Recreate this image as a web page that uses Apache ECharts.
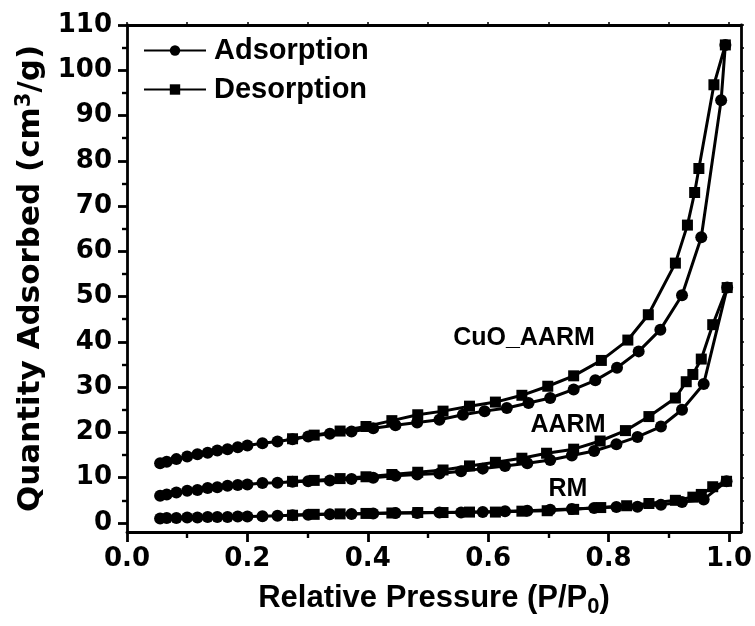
<!DOCTYPE html>
<html>
<head>
<meta charset="utf-8">
<script src="https://cdn.jsdelivr.net/npm/echarts@6/dist/echarts.min.js"></script>
<style>html,body{margin:0;padding:0;background:#fff}#c{width:755px;height:626px}</style>
</head>
<body>
<div id="c"></div>
<script>
// ---- data ----
const xTicks = [0, 0.2, 0.4, 0.6, 0.8, 1.0];
const xMinorTicks = [0.1, 0.3, 0.5, 0.7, 0.9];
const yTicks = [0, 10, 20, 30, 40, 50, 60, 70, 80, 90, 100, 110];
const yMinorTicks = [5, 15, 25, 35, 45, 55, 65, 75, 85, 95, 105];

const cuoAdsP = [0.055,0.066,0.082,0.100,0.117,0.134,0.150,0.167,0.184,0.200,0.225,0.250,0.275,0.301,0.337,0.373,0.409,0.446,0.482,0.519,0.558,0.594,0.631,0.667,0.703,0.742,0.778,0.814,0.850,0.886,0.922,0.954,0.987,0.994];
const cuoAdsV = [13.2,13.5,14.1,14.7,15.2,15.5,16.0,16.3,16.7,17.1,17.6,18.0,18.5,19.1,19.7,20.2,20.9,21.6,22.2,22.8,23.9,24.7,25.4,26.5,27.6,29.5,31.5,34.3,37.9,42.7,50.3,63.1,93.4,105.6];
const cuoDesP = [0.994,0.975,0.950,0.943,0.931,0.911,0.866,0.832,0.788,0.742,0.699,0.656,0.612,0.569,0.525,0.483,0.440,0.397,0.354,0.311,0.275];
const cuoDesV = [105.6,96.8,78.3,73.0,65.8,57.4,46.0,40.4,35.9,32.5,30.2,28.2,26.7,25.8,24.7,23.9,22.6,21.3,20.3,19.4,18.6];

const aarmAdsP = [0.055,0.066,0.082,0.100,0.117,0.134,0.150,0.167,0.184,0.200,0.225,0.250,0.275,0.301,0.337,0.373,0.409,0.446,0.482,0.519,0.555,0.591,0.628,0.665,0.703,0.739,0.776,0.813,0.848,0.887,0.922,0.958,0.997];
const aarmAdsV = [6.0,6.3,6.7,7.1,7.3,7.7,7.9,8.2,8.4,8.5,8.8,8.9,9.1,9.2,9.4,9.7,10.0,10.4,10.7,10.9,11.4,12.0,12.6,13.2,13.9,14.9,15.9,17.4,19.0,21.3,25.0,30.7,52.0];
const aarmDesP = [0.997,0.973,0.954,0.940,0.929,0.911,0.867,0.828,0.786,0.742,0.697,0.656,0.612,0.569,0.525,0.483,0.440,0.397,0.354,0.311,0.275];
const aarmDesV = [52.0,43.8,36.2,32.8,31.2,27.6,23.5,20.4,18.1,16.3,15.4,14.3,13.4,12.6,11.7,11.2,10.7,10.2,9.8,9.4,9.2];

const rmAdsP = [0.055,0.066,0.082,0.100,0.117,0.134,0.150,0.167,0.184,0.200,0.225,0.250,0.275,0.301,0.337,0.373,0.409,0.446,0.482,0.519,0.555,0.591,0.628,0.665,0.703,0.739,0.776,0.813,0.848,0.887,0.922,0.958,0.996];
const rmAdsV = [1.0,1.1,1.1,1.2,1.2,1.3,1.3,1.3,1.4,1.4,1.5,1.6,1.7,1.8,1.9,2.0,2.1,2.2,2.2,2.3,2.3,2.4,2.6,2.7,2.9,3.1,3.3,3.5,3.6,4.0,4.6,5.2,9.2];
const rmDesP = [0.996,0.973,0.954,0.940,0.911,0.867,0.830,0.787,0.742,0.698,0.656,0.612,0.569,0.525,0.483,0.440,0.397,0.354,0.311,0.275];
const rmDesV = [9.2,8.0,6.3,5.7,5.0,4.3,3.8,3.4,3.0,2.7,2.6,2.4,2.4,2.3,2.3,2.2,2.1,2.0,1.9,1.7];

const sampleLabels = ['CuO_AARM', 'AARM', 'RM'];
// -------------------------------------

const FONT = '"Liberation Sans", Arial, sans-serif';
const WFONT = '"DejaVu Sans", "Liberation Sans", sans-serif';
const zip = (xs, ys) => xs.map((x, i) => [x, ys[i]]);

function mkSeries(name, xs, ys, sym) {
  return {
    type: 'line', name: name, data: zip(xs, ys),
    xAxisIndex: 0, yAxisIndex: 0,
    symbol: sym, symbolSize: sym === 'circle' ? 12 : 11,
    color: '#000',
    lineStyle: { color: '#000', width: 3 },
    itemStyle: { color: '#000' },
    animation: false, silent: true
  };
}

const axisLineStyle = { show: true, onZero: false, lineStyle: { color: '#000', width: 2.8 } };

const chart = echarts.init(document.getElementById('c'), null, { renderer: 'canvas' });
chart.setOption({
  backgroundColor: '#fff',
  animation: false,
  grid: { left: 127, right: 12, top: 25, bottom: 94, containLabel: false },
  legend: {
    data: ['Adsorption', 'Desorption'],
    orient: 'vertical', left: 143, top: 36, padding: 0,
    itemWidth: 62, itemHeight: 13, itemGap: 10,
    textStyle: { fontFamily: FONT, fontWeight: 'bold', fontSize: 29, color: '#000', padding: [0, 0, 0, 3] },
    selectedMode: false
  },
  xAxis: [
    {
      type: 'value', min: 0, max: 1.02, position: 'bottom',
      axisLine: axisLineStyle,
      axisTick: { show: true, customValues: xTicks, length: 10, lineStyle: { color: '#000', width: 2.8 } },
      axisLabel: { customValues: xTicks, formatter: v => v.toFixed(1), margin: 14,
        fontFamily: WFONT, fontWeight: 'bold', fontSize: 26, color: '#000' },
      splitLine: { show: false },
      name: 'Relative Pressure (P/P{sub|0})', nameLocation: 'middle', nameGap: 47,
      nameTextStyle: { fontFamily: FONT, fontWeight: 'bold', fontSize: 31, color: '#000',
        rich: { sub: { fontFamily: FONT, fontWeight: 'bold', fontSize: 22, color: '#000', padding: [17, 0, 0, 0] } } }
    },
    {
      type: 'value', min: 0, max: 1.02, position: 'bottom',
      axisLine: { show: false, onZero: false },
      axisTick: { show: true, customValues: xMinorTicks, length: 6, lineStyle: { color: '#000', width: 2.4 } },
      axisLabel: { show: false }, splitLine: { show: false }
    },
    {
      type: 'value', min: 0, max: 1.02, position: 'top',
      axisLine: axisLineStyle,
      axisTick: { show: true, customValues: [0,0.1,0.2,0.3,0.4,0.5,0.6,0.7,0.8,0.9,1.0], length: 3, lineStyle: { color: '#000', width: 1.5 } },
      axisLabel: { show: false }, splitLine: { show: false }
    }
  ],
  yAxis: [
    {
      type: 'value', min: -2, max: 110, position: 'left',
      axisLine: axisLineStyle,
      axisTick: { show: true, customValues: yTicks, length: 9, lineStyle: { color: '#000', width: 2.8 } },
      axisLabel: { customValues: yTicks, margin: 15,
        fontFamily: WFONT, fontWeight: 'bold', fontSize: 26, color: '#000' },
      splitLine: { show: false },
      name: 'Quantity Adsorbed (cm{sup|3}/g)', nameLocation: 'middle', nameGap: 76,
      nameTextStyle: { fontFamily: WFONT, fontWeight: 'bold', fontSize: 31, color: '#000',
        rich: { sup: { fontFamily: WFONT, fontWeight: 'bold', fontSize: 21, color: '#000', padding: [0, 0, 14, 0] } } }
    },
    {
      type: 'value', min: -2, max: 110, position: 'left',
      axisLine: { show: false, onZero: false },
      axisTick: { show: true, customValues: yMinorTicks, length: 5, lineStyle: { color: '#000', width: 2.4 } },
      axisLabel: { show: false }, splitLine: { show: false }
    },
    {
      type: 'value', min: -2, max: 110, position: 'right',
      axisLine: axisLineStyle,
      axisTick: { show: true, customValues: yTicks.concat(yMinorTicks), length: 3, lineStyle: { color: '#000', width: 1.5 } },
      axisLabel: { show: false }, splitLine: { show: false }
    }
  ],
  graphic: [
    { type: 'text', x: 524, y: 338, style: { text: sampleLabels[0], fontFamily: FONT, fontWeight: 'bold', fontSize: 25, fill: '#000', align: 'center', verticalAlign: 'middle' } },
    { type: 'text', x: 568, y: 425, style: { text: sampleLabels[1], fontFamily: FONT, fontWeight: 'bold', fontSize: 25, fill: '#000', align: 'center', verticalAlign: 'middle' } },
    { type: 'text', x: 568, y: 489, style: { text: sampleLabels[2], fontFamily: FONT, fontWeight: 'bold', fontSize: 25, fill: '#000', align: 'center', verticalAlign: 'middle' } }
  ],
  series: [
    mkSeries('Adsorption', rmAdsP, rmAdsV, 'circle'),
    mkSeries('Desorption', rmDesP, rmDesV, 'rect'),
    mkSeries('Adsorption', aarmAdsP, aarmAdsV, 'circle'),
    mkSeries('Desorption', aarmDesP, aarmDesV, 'rect'),
    mkSeries('Adsorption', cuoAdsP, cuoAdsV, 'circle'),
    mkSeries('Desorption', cuoDesP, cuoDesV, 'rect')
  ]
});
</script>
</body>
</html>
